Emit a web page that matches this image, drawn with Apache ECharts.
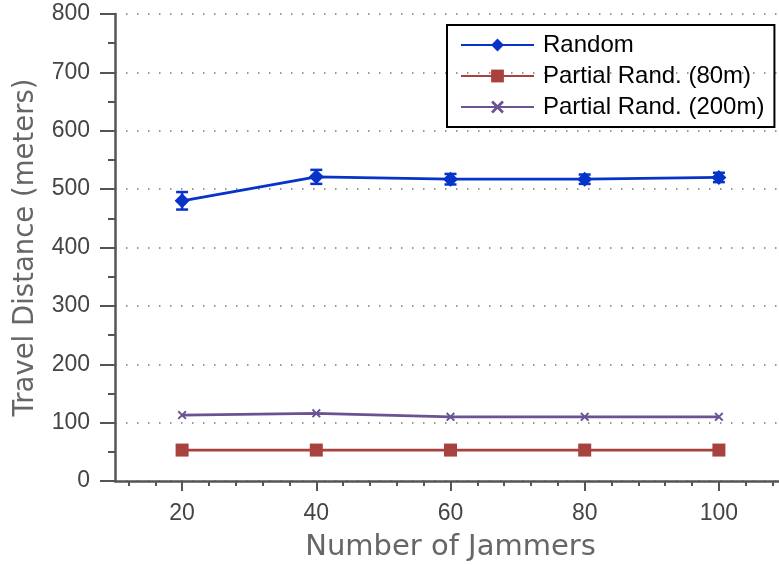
<!DOCTYPE html>
<html>
<head>
<meta charset="utf-8">
<script src="https://cdn.jsdelivr.net/npm/echarts@6/dist/echarts.min.js"></script>
<style>html,body{margin:0;padding:0;background:#fff}#c{width:779px;height:565px}</style>
</head>
<body>
<div id="c"></div>
<script>
var jammers = [20, 40, 60, 80, 100];
var randomVals = [480, 521, 517, 517, 520];
var randomErr = [15, 12, 9, 8, 8];
var partial80 = [53, 53, 53, 53, 53];
var partial200 = [113, 116, 110, 110, 110];
var xMajorTicks = [20, 40, 60, 80, 100];
var xMinorTicks = [12, 16, 24, 28, 32, 36, 44, 48, 52, 56, 64, 68, 72, 76, 84, 88, 92, 96, 104, 108];
var seriesNames = ['Random', 'Partial Rand. (80m)', 'Partial Rand. (200m)'];

var blue = '#0634c8', red = '#a8423e', purple = '#6b5292';
var axisGray = '#555';
var xMark = 'path://M0,1.5 L1.5,0 L5,3.5 L8.5,0 L10,1.5 L6.5,5 L10,8.5 L8.5,10 L5,6.5 L1.5,10 L0,8.5 L3.5,5 Z';

function pairs(vals) { return jammers.map(function (x, i) { return [x, vals[i]]; }); }
var errData = jammers.map(function (x, i) { return [x, randomVals[i] - randomErr[i], randomVals[i] + randomErr[i]]; });

var chart = echarts.init(document.getElementById('c'));
chart.setOption({
  animation: false,
  grid: { left: 115, top: 14, bottom: 84, right: -7, containLabel: false, outerBoundsMode: 'none' },
  legend: {
    orient: 'vertical', left: 447, top: 25,
    padding: [8, 10, 8, 13],
    borderColor: '#000', borderWidth: 2,
    itemWidth: 73, itemHeight: 16, itemGap: 7,
    textStyle: { fontFamily: 'Liberation Sans, Arial', fontSize: 24, color: '#000', padding: [0, 0, 0, 4] },
    data: seriesNames
  },
  xAxis: [{
    type: 'value', min: 10, max: 110,
    name: 'Number of Jammers', nameLocation: 'middle', nameGap: 52,
    nameTextStyle: { fontFamily: 'DejaVu Sans', fontSize: 29, color: '#666' },
    axisLine: { show: true, onZero: false, lineStyle: { color: axisGray, width: 2.5 } },
    axisTick: { show: true, customValues: xMajorTicks, length: 10, lineStyle: { color: axisGray, width: 2 } },
    axisLabel: { customValues: xMajorTicks, margin: 21, fontFamily: 'Liberation Sans, Arial', fontSize: 23, color: '#444' },
    splitLine: { show: false }
  }, {
    type: 'value', min: 10, max: 110, position: 'bottom',
    axisLine: { show: false, onZero: false },
    axisTick: { show: true, customValues: xMinorTicks, length: 5, lineStyle: { color: axisGray, width: 2 } },
    axisLabel: { show: false },
    splitLine: { show: false }
  }],
  yAxis: {
    type: 'value', min: 0, max: 800, interval: 100,
    name: 'Travel Distance (meters)', nameLocation: 'middle', nameGap: 75,
    nameTextStyle: { fontFamily: 'DejaVu Sans', fontSize: 27.5, color: '#666' },
    axisLine: { show: true, onZero: false, lineStyle: { color: axisGray, width: 2.5 } },
    axisTick: { show: true, length: 15, lineStyle: { color: axisGray, width: 2 } },
    minorTick: { show: true, splitNumber: 2, length: 7, lineStyle: { color: axisGray, width: 2 } },
    axisLabel: { margin: 25, fontFamily: 'Liberation Sans, Arial', fontSize: 23, color: '#444' },
    splitLine: { show: true, lineStyle: { color: '#777', width: 1.5, type: [1.5, 9.5] } }
  },
  series: [{
    name: seriesNames[0], type: 'line', data: pairs(randomVals),
    symbol: 'diamond', symbolSize: 15,
    lineStyle: { color: blue, width: 2.8 }, itemStyle: { color: blue }, z: 5
  }, {
    name: seriesNames[1], type: 'line', data: pairs(partial80),
    symbol: 'rect', symbolSize: 13,
    lineStyle: { color: red, width: 2.8 }, itemStyle: { color: red }, z: 3
  }, {
    name: seriesNames[2], type: 'line', data: pairs(partial200),
    symbol: xMark, symbolSize: 9,
    lineStyle: { color: purple, width: 2.8 }, itemStyle: { color: purple }, z: 4
  }, {
    type: 'custom', data: errData, z: 6,
    renderItem: function (params, api) {
      var x = api.value(0);
      var lo = api.coord([x, api.value(1)]);
      var hi = api.coord([x, api.value(2)]);
      var hw = 6;
      var st = { stroke: blue, lineWidth: 2.5 };
      return { type: 'group', children: [
        { type: 'line', shape: { x1: lo[0], y1: lo[1], x2: hi[0], y2: hi[1] }, style: st },
        { type: 'line', shape: { x1: lo[0] - hw, y1: lo[1], x2: lo[0] + hw, y2: lo[1] }, style: st },
        { type: 'line', shape: { x1: hi[0] - hw, y1: hi[1], x2: hi[0] + hw, y2: hi[1] }, style: st }
      ] };
    }
  }]
});
</script>
</body>
</html>
